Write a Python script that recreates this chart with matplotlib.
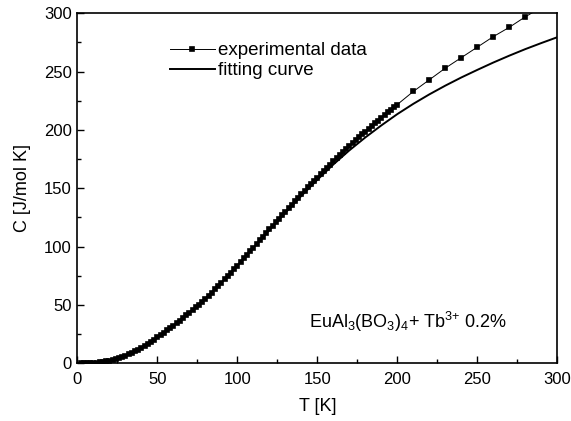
import matplotlib
matplotlib.use("Agg")
import matplotlib.pyplot as plt
from matplotlib.ticker import MultipleLocator

plt.rcParams['font.family'] = ['Liberation Sans', 'DejaVu Sans']
plt.rcParams['mathtext.default'] = 'regular'

# experimental data (T in K, C in J/mol K)
T_exp = [2, 4, 6, 8, 10, 12, 14, 16, 18, 20,
         22, 24, 26, 28, 30, 32, 34, 36, 38, 40,
         42, 44, 46, 48, 50, 52, 54, 56, 58, 60,
         62, 64, 66, 68, 70, 72, 74, 76, 78, 80,
         82, 84, 86, 88, 90, 92, 94, 96, 98, 100,
         102, 104, 106, 108, 110, 112, 114, 116, 118, 120,
         122, 124, 126, 128, 130, 132, 134, 136, 138, 140,
         142, 144, 146, 148, 150, 152, 154, 156, 158, 160,
         162, 164, 166, 168, 170, 172, 174, 176, 178, 180,
         182, 184, 186, 188, 190, 192, 194, 196, 198, 200,
         210, 220, 230, 240, 250, 260, 270, 280, 290]
C_exp = [0.0, 0.0, 0.1, 0.2, 0.3, 0.5, 0.8, 1.2, 1.7, 2.3,
         3.0, 3.7, 4.5, 5.4, 6.4, 7.6, 8.9, 10.3, 11.8, 13.4,
         15.1, 16.8, 18.6, 20.4, 22.3, 24.2, 26.2, 28.2, 30.2, 32.3,
         34.4, 36.6, 38.8, 41.0, 43.3, 45.6, 48.0, 50.4, 52.9, 55.4,
         58.0, 60.7, 63.4, 66.2, 69.0, 71.9, 74.8, 77.8, 80.8, 83.8,
         86.8, 89.9, 93.0, 96.1, 99.2, 102.3, 105.4, 108.5, 111.6, 114.7,
         117.8, 120.9, 124.0, 127.0, 130.0, 133.0, 136.0, 139.0, 142.0, 145.0,
         147.9, 150.8, 153.6, 156.4, 159.2, 162.0, 164.8, 167.6, 170.4, 173.1,
         175.8, 178.5, 181.1, 183.7, 186.3, 188.8, 191.3, 193.8, 196.2, 198.6,
         201.0, 203.4, 205.8, 208.1, 210.4, 212.7, 215.0, 217.3, 219.6, 221.8,
         233.0, 243.0, 253.0, 262.0, 271.0, 280.0, 288.0, 297.0, 305.0]

# fitting curve
T_fit = [0, 10, 20, 30, 40, 50, 60, 70, 80, 90, 100, 110, 120, 130, 140, 150,
         160, 170, 180, 190, 200, 210, 220, 230, 240, 250, 260, 270, 280, 290, 300]
C_fit = [0.0, 0.3, 2.3, 6.4, 13.4, 22.3, 32.3, 43.3, 55.4, 69.0, 83.8, 99.0,
         114.2, 129.0, 143.5, 157.3, 170.4, 182.5, 193.6, 203.9, 213.6, 222.4,
         230.5, 238.0, 245.0, 251.5, 257.8, 263.7, 269.3, 274.5, 279.5]

fig = plt.figure(figsize=(5.71, 4.21), dpi=100)
ax = fig.add_axes([0.1354, 0.137, 0.8406, 0.8314])

ax.plot(T_exp, C_exp, color='black', lw=0.7, marker='s', ms=3.3, mew=1.2,
        label='experimental data')
ax.plot(T_fit, C_fit, color='black', lw=1.4, label='fitting curve')

ax.set_xlim(0, 300)
ax.set_ylim(0, 300)
ax.xaxis.set_major_locator(MultipleLocator(50))
ax.xaxis.set_minor_locator(MultipleLocator(25))
ax.yaxis.set_major_locator(MultipleLocator(50))
ax.yaxis.set_minor_locator(MultipleLocator(25))
ax.tick_params(which='both', direction='in', top=False, right=False,
               labelsize=12, width=1.0)
ax.tick_params(axis='x', which='major', length=5, pad=6)
ax.tick_params(axis='y', which='major', length=5, pad=4)
ax.tick_params(which='minor', length=3)
for s in ax.spines.values():
    s.set_linewidth(1.2)

ax.set_xlabel('T [K]', fontsize=13, labelpad=8)
ax.set_ylabel('C [J/mol K]', fontsize=13, labelpad=9)

ax.legend(loc='upper left', bbox_to_anchor=(0.193, 0.918), frameon=False,
          fontsize=13.5, handlelength=2.4, handletextpad=0.15,
          borderaxespad=0, borderpad=0, labelspacing=0.15)

ax.text(0.483, 0.118, r'EuAl$_3$(BO$_3$)$_4$+ Tb$^{3{+}}$ 0.2%',
        transform=ax.transAxes, fontsize=13, ha='left', va='center')

fig.savefig('out.png', dpi=100)
